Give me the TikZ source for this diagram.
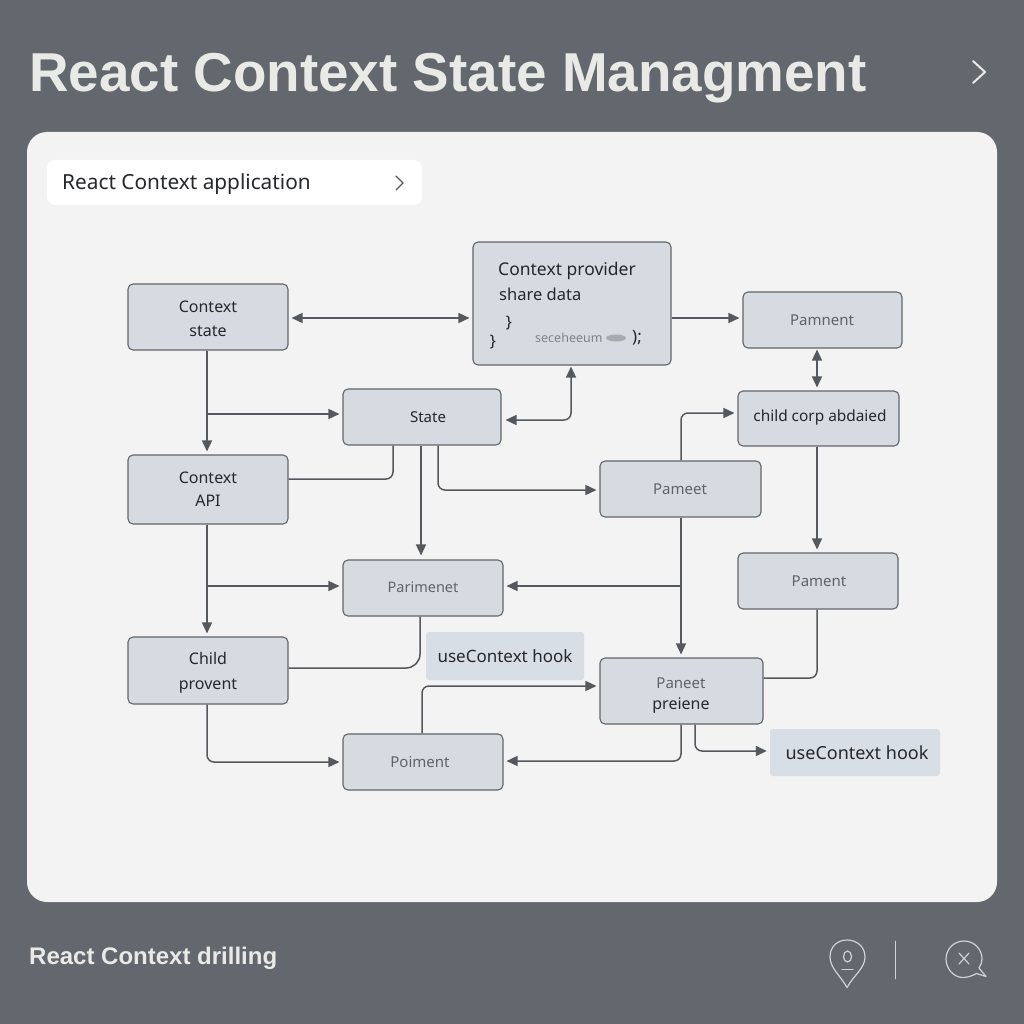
\documentclass[tikz,border=0pt]{standalone}
\usepackage{fontspec}
\setmainfont{Noto Sans}
\newfontfamily\headfont{Liberation Sans Bold}
\usetikzlibrary{arrows.meta}
\definecolor{bgc}{HTML}{63676E}
\definecolor{panelc}{HTML}{F2F3F2}
\definecolor{boxc}{HTML}{D5DBE0}
\definecolor{linec}{HTML}{55585D}
\definecolor{boxedge}{HTML}{63666B}
\definecolor{titlec}{HTML}{E9E9E6}
\definecolor{softc}{HTML}{5F646B}
\definecolor{inkc}{HTML}{26282B}
\definecolor{hookc}{HTML}{D8DEE5}
\definecolor{iconc}{HTML}{D0D2D3}
\tikzset{
  x=1pt,y=-1pt,
  fs/.style={font=\fontsize{#1}{#1}\selectfont},
  boxn/.style={draw=boxedge,fill=boxc,line width=1.1pt,rounded corners=5pt,inner sep=0pt,align=center},
  hookn/.style={fill=hookc,rounded corners=3pt,inner sep=0pt,align=center,text=inkc,fs=17},
  lab/.style={text=softc,fs=15,inner sep=0pt},
  labd/.style={text=inkc,fs=16,inner sep=0pt},
  conn/.style={draw=linec,line width=1.5pt,rounded corners=7pt},
  arr/.style={conn,-{Triangle[length=11pt,width=10pt]}},
  dbl/.style={conn,{Triangle[length=11pt,width=10pt]}-{Triangle[length=11pt,width=10pt]}},
  icon/.style={draw=iconc,line width=1.2pt,line cap=round,line join=round},
}
\newcommand{\boxat}[6][]{\node[boxn,minimum width=#4pt-#3pt,minimum height=#6pt-#5pt,#1] (#2) at ({(#3+#4)/2},{(#5+#6)/2}) {};}
\begin{document}
\begin{tikzpicture}
\useasboundingbox (0,0) rectangle (1024,1024);
\fill[bgc] (0,0) rectangle (1024,1024);
\fill[panelc,rounded corners=20pt] (27,132) rectangle (997,902);

\node[anchor=base west,inner sep=0pt,text=titlec,font=\headfont\fontsize{54.8}{60}\selectfont] (title) at (29,92) {React Context State Managment};
\coordinate (tc1) at (973,61); \coordinate (tc2) at (985,72); \coordinate (tc3) at (973,83);
\draw[draw=titlec,line width=2pt,line cap=round,line join=round] (tc1) -- (tc2) -- (tc3);

\fill[white,rounded corners=8pt] (47,160) rectangle (422,205);
\node[anchor=base west,inner sep=0pt,text=inkc,fs=20.8] (apptext) at (62,190) {React Context application};
\coordinate (pc1) at (396,176); \coordinate (pc2) at (403,183); \coordinate (pc3) at (396,190);
\draw[draw=linec,line width=1.4pt,line cap=round,line join=round] (pc1) -- (pc2) -- (pc3);

\boxat{cs}{128}{288}{284}{350}
\boxat{cp}{473}{671}{242}{365}
\boxat{pay}{743}{902}{292}{348}
\boxat{state}{343}{501}{389}{445}
\boxat{ccomp}{738}{899}{391}{446}
\boxat{api}{128}{288}{455}{524}
\boxat{pan}{600}{761}{461}{517}
\boxat{parm}{343}{503}{560}{616}
\boxat{pam}{738}{898}{553}{609}
\boxat{prov}{128}{288}{637}{704}
\boxat{pre}{600}{763}{658}{724}
\boxat{poi}{343}{503}{734}{790}
\node[hookn,minimum width=158pt,minimum height=48pt] (hooka) at (505,656) {useContext hook};
\node[fill=hookc,rounded corners=3pt,minimum width=170pt,minimum height=47pt,inner sep=0pt] (hookb) at (855,752.5) {};
\node[text=inkc,fs=18,inner sep=0pt] (thookb) at (857,753) {useContext hook};

\node[labd,align=center] (tcs) at (208,318.5) {Context\\[8pt]state};
\node[labd,align=center] (tapi) at (208,489) {Context\\[7pt]API};
\node[labd,align=center] (tprov) at (208,673) {Child\\[9pt]provent};
\node[lab,text=inkc] (tstate) at (428,417) {State};
\node[lab] (tpay) at (822,320) {Pamnent};
\node[lab] (tpan) at (680,489) {Pameet};
\node[lab,fs=14.5] (tparm) at (423,587) {Parimenet};
\node[lab] (tpam) at (819,581) {Pament};
\node[lab] (tpoi) at (420,762) {Poiment};
\node[lab] (tpre1) at (681,683) {Paneet};
\node[labd] (tpre2) at (681,706) {preiene};
\node[text=inkc,fs=15.4,inner sep=0pt] (tcc) at (820,417) {child corp abdaied};
\node[anchor=base west,text=inkc,fs=17.5,inner sep=0pt] (tcp1) at (498,275) {Context provider};
\node[anchor=base west,text=inkc,fs=16.5,inner sep=0pt] (tcp2) at (499,300) {share data};
\node[text=inkc,fs=16,inner sep=0pt] (tb1) at (509,323) {\}};
\node[text=inkc,fs=16,inner sep=0pt] (tb2) at (493,342) {\}};
\node[anchor=west,text=softc!80,fs=12.5,inner sep=0pt] (tsec) at (535,338) {seceheeum};
\fill[softc!55] (616,338) ellipse (10pt and 3.5pt);
\node[text=inkc,fs=17,inner sep=0pt] (tend) at (637,338) {);};

% connectors
\draw[dbl,shorten <=3pt,shorten >=3pt] (cs.east |- 0,318) -- (cp.west |- 0,318);
\draw[arr,shorten >=3pt] (cs.south -| 207,0) -- (api.north -| 207,0);
\draw[arr,shorten >=3pt] (207,414) -- (state.west |- 0,414);
\draw[conn] (api.east |- 0,479) -- (393,479) -- (state.south -| 393,0);
\draw[arr,shorten >=4pt] (state.south -| 421,0) -- (parm.north -| 421,0);
\draw[arr,shorten >=3pt] (state.south -| 438,0) -- (438,490) -- (pan.west |- 0,490);
\draw[dbl,shorten <=4pt,shorten >=1pt] (state.east |- 0,420) -- (571,420) -- (cp.south -| 571,0);
\draw[arr,shorten >=3pt] (cp.east |- 0,318) -- (pay.west |- 0,318);
\draw[dbl,shorten <=1pt,shorten >=3pt] (pay.south -| 817,0) -- (ccomp.north -| 817,0);
\draw[arr,shorten >=3pt] (pan.north -| 681,0) -- (681,413) -- (ccomp.west |- 0,413);
\draw[arr,shorten >=3pt] (pan.south -| 681,0) -- (pre.north -| 681,0);
\draw[arr,shorten >=3pt] (681,586) -- (parm.east |- 0,586);
\draw[arr,shorten >=3pt] (ccomp.south -| 817,0) -- (pam.north -| 817,0);
\draw[conn] (pam.south -| 817,0) -- (817,678) -- (pre.east |- 0,678);
\draw[arr,shorten >=3pt] (api.south -| 207,0) -- (prov.north -| 207,0);
\draw[arr,shorten >=3pt] (207,586) -- (parm.west |- 0,586);
\draw[conn,rounded corners=14pt] (parm.south -| 420,0) -- (420,668) -- (prov.east |- 0,668);
\draw[arr,shorten >=3pt] (prov.south -| 207,0) -- (207,762) -- (poi.west |- 0,762);
\draw[arr,shorten >=3pt] (poi.north -| 422,0) -- (422,686) -- (pre.west |- 0,686);
\draw[arr,shorten >=3pt] (pre.south -| 681,0) -- (681,761) -- (poi.east |- 0,761);
\draw[arr,shorten >=3pt] (pre.south -| 695,0) -- (695,751) -- (hookb.west |- 0,751);

% footer
\node[anchor=base west,inner sep=0pt,text=titlec,font=\headfont\fontsize{24}{28}\selectfont] (foot) at (29,964) {React Context drilling};
\draw[icon] (847,987.5) .. controls (840,975) and (830,968) .. (830,957) .. controls (830,946) and (838,940) .. (847,940) .. controls (856,940) and (865,946) .. (865,957) .. controls (865,968) and (854,975) .. (847,987.5) -- cycle;
\draw[icon] (847.5,956.5) ellipse (4pt and 5.5pt);
\draw[icon] (842,969.5) -- (853,969.5);
\draw[icon,line width=.9pt] (895,941) -- (895,979);
\draw[icon] (976.5,973.5) .. controls (972,976) and (967,977.5) .. (963,977.5) .. controls (953,977.5) and (946,968) .. (946,959) .. controls (946,949) and (954,941) .. (964,941) .. controls (974,941) and (982,949) .. (982,959) .. controls (982,962) and (981,965) .. (979,968) -- (986,976.5) -- cycle;
\draw[icon] (959,953) -- (969,964);
\draw[icon] (969,953) -- (959,964);
\end{tikzpicture}
\end{document}
